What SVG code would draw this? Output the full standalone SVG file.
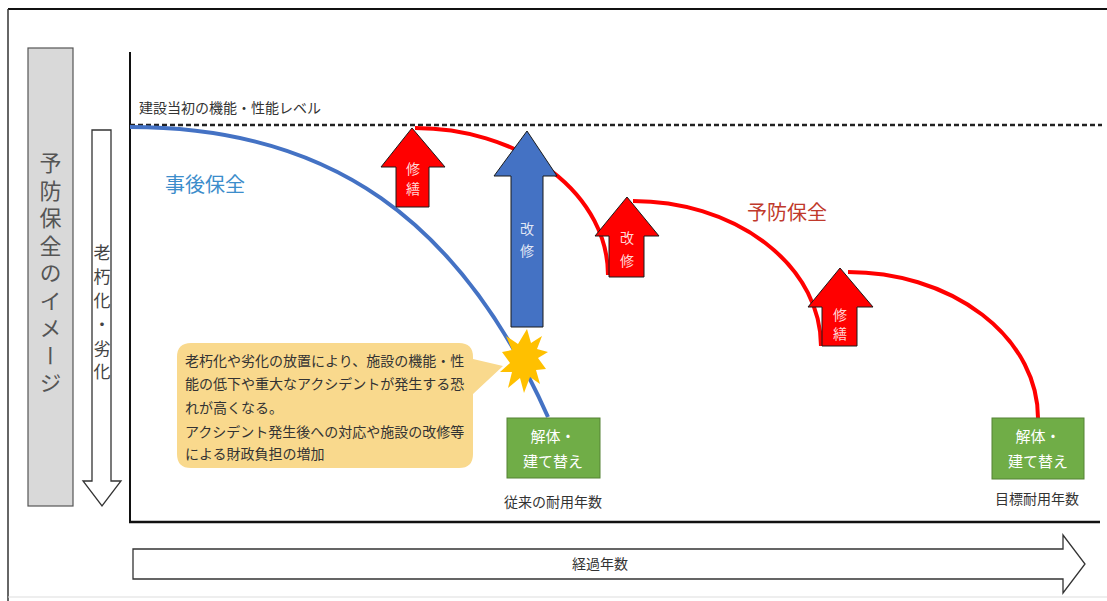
<svg xmlns="http://www.w3.org/2000/svg" width="1107" height="601" viewBox="0 0 1107 601">
<style>
text{font-family:"Noto Sans CJK JP","Noto Sans CJK SC",sans-serif;}
.lbl{fill:#333;font-size:14px;}
.vt{writing-mode:vertical-rl;}
.arrtxt{fill:#fff;fill-opacity:0.85;font-size:14px;text-anchor:middle;}
.red{fill:#FF0000;stroke:#1a1a1a;stroke-width:1;}
.blue{fill:#4472C4;stroke:#1a1a1a;stroke-width:1;}
.green{fill:#70AD47;stroke:#548235;stroke-width:1;}
.gtxt{fill:#fff;font-size:15px;text-anchor:middle;}
.rc{fill:none;stroke:#FF0000;stroke-width:4;}
</style>
<rect width="1107" height="601" fill="#fff"/>
<g id="frame">
<line x1="8" y1="9" x2="1107" y2="9" stroke="#111" stroke-width="2"/>
<line x1="8" y1="9" x2="8" y2="601" stroke="#333" stroke-width="1.5"/>
<line x1="8" y1="597" x2="1107" y2="597" stroke="#ddd" stroke-width="1"/>
</g>
<g id="title">
<rect x="28" y="48" width="45" height="458" fill="#D9D9D9" stroke="#555" stroke-width="1.2"/>
<text class="vt" x="50.5" y="152" font-size="22" fill="#555" letter-spacing="5.5">予防保全のイメージ</text>
</g>
<g id="deterioration">
<polygon points="92,130 111,130 111,481 121,481 102,506 83,481 92,481" fill="#fff" stroke="#333" stroke-width="1.3"/>
<text class="vt" x="102" y="244.5" font-size="17" fill="#444" letter-spacing="6.8">老朽化・劣化</text>
</g>
<g id="axes">
<line x1="130" y1="52" x2="130" y2="522" stroke="#111" stroke-width="2"/>
<line x1="129" y1="522" x2="1100" y2="522" stroke="#111" stroke-width="2.5"/>
<line x1="130" y1="125" x2="1102" y2="125" stroke="#222" stroke-width="2.5" stroke-dasharray="5,3"/>
<text class="lbl" x="139" y="113">建設当初の機能・性能レベル</text>
</g>
<g id="connectors">
<path d="M130,127 C330,127 460,220 548,417" fill="none" stroke="#4472C4" stroke-width="4"/>
<path class="rc" d="M415,128 A193,147 0 0 1 608,275"/>
<path class="rc" d="M633,201 A188,145 0 0 1 821,346"/>
<path class="rc" d="M848,272 A190,146 0 0 1 1038,418"/>
</g>
<g id="label-jigo"><text x="165" y="192" font-size="20" fill="#3C8DCB">事後保全</text></g>
<g id="label-yobo"><text x="747" y="220" font-size="20" fill="#C0392B">予防保全</text></g>
<g id="arrow-shuzen1">
<polygon class="red" points="412,128 445,167 429,167 429,207 396,207 396,167 381,167"/>
<text class="arrtxt" x="413" y="174">修</text><text class="arrtxt" x="413" y="194">繕</text>
</g>
<g id="arrow-kaishu-blue">
<polygon class="blue" points="527,131 557,176 543,176 543,327 511,327 511,176 494,176"/>
<text class="arrtxt" x="527" y="234">改</text><text class="arrtxt" x="527" y="256">修</text>
</g>
<g id="arrow-kaishu2">
<polygon class="red" points="627,197 659,236 644,236 644,277 609,277 609,236 595,236"/>
<text class="arrtxt" x="627" y="243">改</text><text class="arrtxt" x="627" y="266">修</text>
</g>
<g id="arrow-shuzen3">
<polygon class="red" points="840,268 873,307 857,307 857,346 822,346 822,307 808,307"/>
<text class="arrtxt" x="840" y="320" font-size="13">修</text><text class="arrtxt" x="840" y="339" font-size="13">繕</text>
</g>
<g id="callout">
<path d="M191,343 H459 Q473,343 473,357 V359 L503,366 L473,394 V454 Q473,468 459,468 H191 Q177,468 177,454 V357 Q177,343 191,343 Z" fill="#F9D98D"/>
<text class="lbl" font-size="14">
<tspan x="185" y="366">老朽化や劣化の放置により、施設の機能・性</tspan>
<tspan x="185" y="389">能の低下や重大なアクシデントが発生する恐</tspan>
<tspan x="185" y="413">れが高くなる。</tspan>
<tspan x="185" y="437">アクシデント発生後への対応や施設の改修等</tspan>
<tspan x="185" y="459">による財政負担の増加</tspan>
</text>
</g>
<g id="burst">
<polygon points="527,329 531,343 542,336 537,349 548,352 538,358 546,369 536,370 540,384 530,377 524,393 520,378 508,388 512,372 500,372 510,363 502,352 512,350 506,336 518,344" fill="#FFC000"/>
</g>
<g id="box-conventional">
<rect class="green" x="507" y="418" width="93" height="60"/>
<text class="gtxt" x="553" y="442">解体・</text>
<text class="gtxt" x="553" y="467">建て替え</text>
<text class="lbl" x="553" y="507" text-anchor="middle">従来の耐用年数</text>
</g>
<g id="box-target">
<rect class="green" x="992" y="418" width="92" height="61"/>
<text class="gtxt" x="1038" y="442">解体・</text>
<text class="gtxt" x="1038" y="467">建て替え</text>
<text class="lbl" x="1037" y="504" text-anchor="middle">目標耐用年数</text>
</g>
<g id="elapsed">
<polygon points="133,549 1063,549 1063,535 1085,564 1063,593 1063,579 133,579" fill="#fff" stroke="#333" stroke-width="1.3"/>
<text class="lbl" x="600" y="569" text-anchor="middle">経過年数</text>
</g>
</svg>
